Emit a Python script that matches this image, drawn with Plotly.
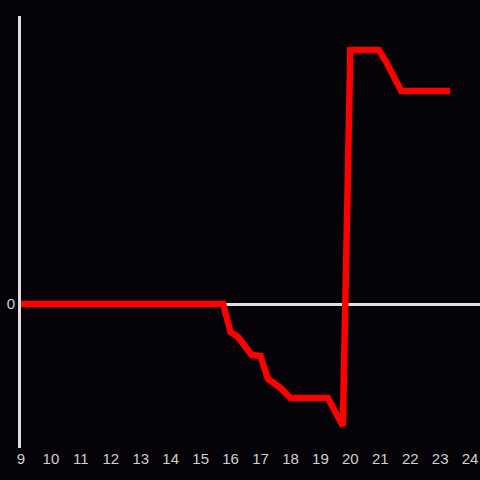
import plotly.graph_objects as go

hours = [9, 15.75, 16.0, 16.25, 16.7, 17.0, 17.25, 17.67, 18.0, 19.25, 19.75, 20.0, 20.95, 21.2, 21.7, 23.33]
values = [0, 0, -28, -33, -51, -52, -75, -84, -94, -94, -122, 254, 254, 242, 213, 213]

fig = go.Figure()
fig.add_trace(go.Scatter(x=hours, y=values, mode='lines', line=dict(color='#ff0000', width=6.5)))

fig.update_layout(width=480, height=480, paper_bgcolor='#050307', plot_bgcolor='#050307',
                  showlegend=False, margin=dict(t=16, b=32, l=21, r=0),
                  font=dict(family="Liberation Sans, Arial, sans-serif", size=15, color='#d0d0d0'))
fig.update_xaxes(range=[9, 24.33], tickvals=list(range(9, 25)), showgrid=False, zeroline=False,
                 showline=False, ticks='', tickfont=dict(size=15, color='#d0d0d0'))
fig.update_yaxes(range=[-144, 288], tickvals=[0], showgrid=False, zeroline=True, zerolinecolor='#e0e0e0',
                 zerolinewidth=3, showline=True, linecolor='#e0e0e0', linewidth=3, ticks='',
                 tickfont=dict(size=15, color='#d0d0d0'))

# page body has a default 8px margin; drop it so the chart fills the window
fig.write_html("out.html", config={'displayModeBar': False},
               post_script="document.body.style.margin='0';document.body.style.background='#050307';")
